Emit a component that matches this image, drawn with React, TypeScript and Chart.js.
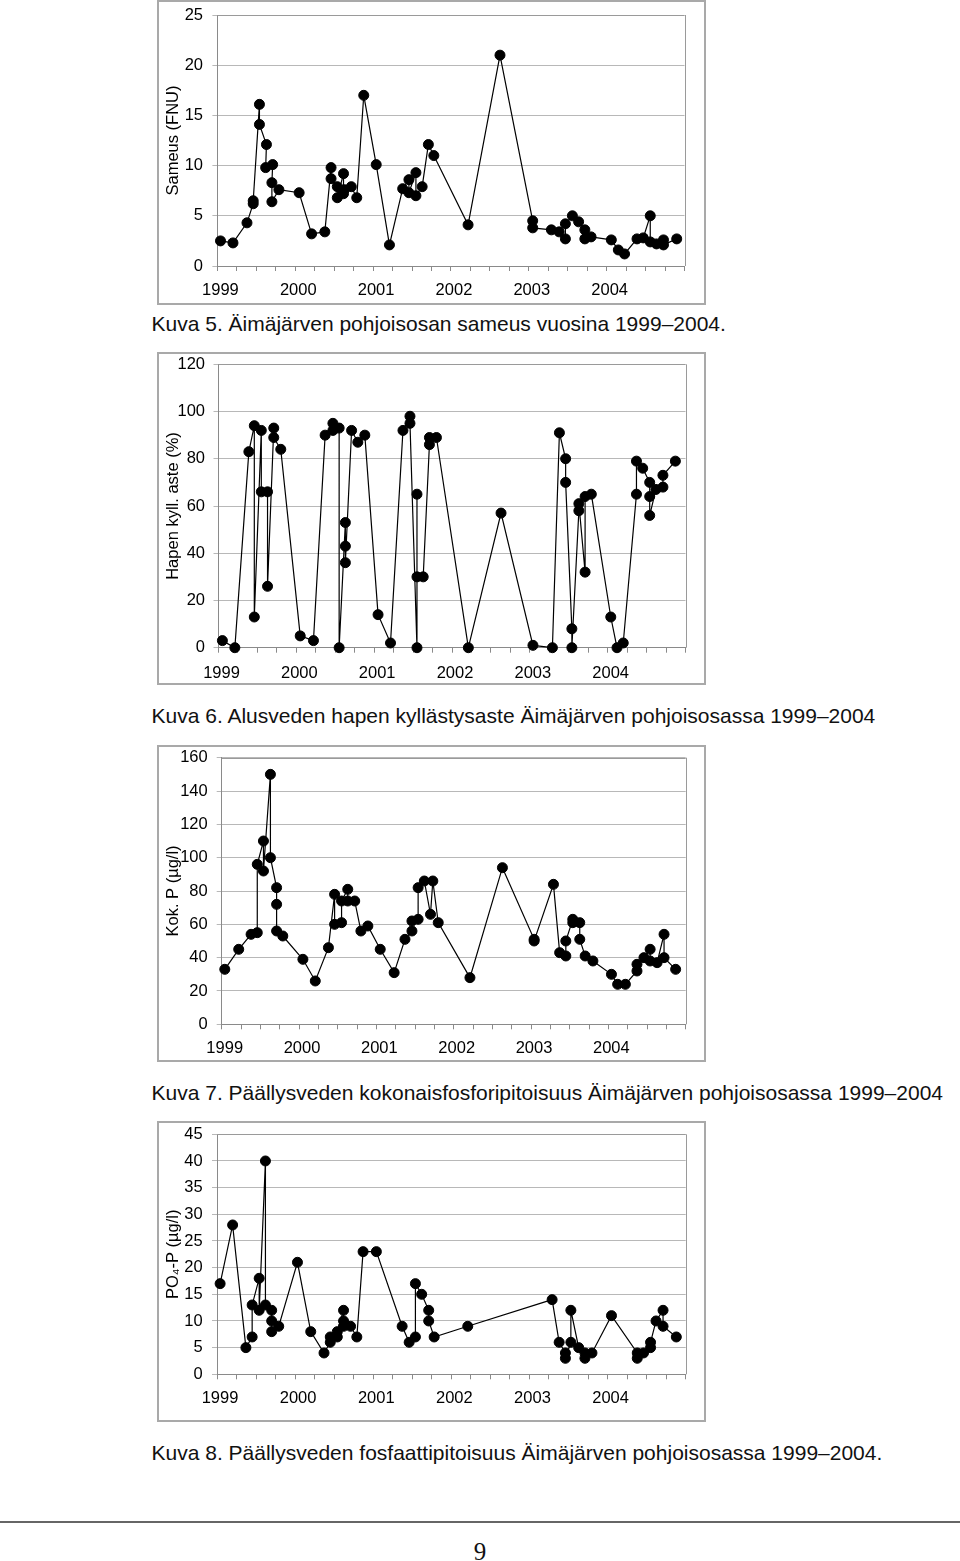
import React, { useEffect, useRef } from 'react';
import { Chart, registerables } from 'chart.js';

Chart.register(...registerables);

// ---------- data ----------
const years = ['1999', '2000', '2001', '2002', '2003', '2004'];

const sameusX = [1999.04, 1999.2, 1999.38, 1999.46, 1999.46, 1999.54, 1999.54, 1999.63, 1999.62, 1999.71, 1999.7, 1999.7, 1999.79, 2000.05, 2000.21, 2000.38, 2000.46, 2000.46, 2000.54, 2000.54, 2000.62, 2000.62, 2000.63, 2000.72, 2000.79, 2000.88, 2001.04, 2001.21, 2001.38, 2001.46, 2001.46, 2001.55, 2001.55, 2001.63, 2001.71, 2001.78, 2002.22, 2002.63, 2003.05, 2003.05, 2003.29, 2003.39, 2003.47, 2003.47, 2003.56, 2003.64, 2003.72, 2003.72, 2003.8, 2004.06, 2004.15, 2004.23, 2004.39, 2004.47, 2004.56, 2004.56, 2004.64, 2004.73, 2004.73, 2004.9];
const sameusY = [2.5, 2.3, 4.3, 6.2, 6.5, 16.1, 14.1, 12.1, 9.8, 10.1, 8.3, 6.4, 7.6, 7.3, 3.2, 3.4, 9.8, 8.7, 7.9, 6.8, 9.2, 7.2, 7.6, 7.9, 6.8, 17.0, 10.1, 2.1, 7.7, 8.6, 7.3, 9.3, 7.0, 7.9, 12.1, 11.0, 4.1, 21.0, 4.5, 3.8, 3.6, 3.4, 2.7, 4.2, 5.0, 4.4, 3.6, 2.7, 2.9, 2.6, 1.6, 1.2, 2.7, 2.8, 5.0, 2.4, 2.2, 2.6, 2.1, 2.7];

const happiX = [1999.05, 1999.21, 1999.39, 1999.46, 1999.46, 1999.55, 1999.55, 1999.63, 1999.63, 1999.71, 1999.71, 1999.8, 2000.05, 2000.22, 2000.37, 2000.47, 2000.47, 2000.55, 2000.55, 2000.63, 2000.63, 2000.63, 2000.71, 2000.79, 2000.88, 2001.05, 2001.21, 2001.37, 2001.46, 2001.46, 2001.55, 2001.55, 2001.55, 2001.63, 2001.71, 2001.71, 2001.8, 2002.21, 2002.63, 2003.04, 2003.29, 2003.38, 2003.46, 2003.46, 2003.54, 2003.54, 2003.63, 2003.63, 2003.71, 2003.71, 2003.79, 2004.04, 2004.12, 2004.2, 2004.37, 2004.37, 2004.45, 2004.54, 2004.54, 2004.54, 2004.62, 2004.71, 2004.71, 2004.87];
const happiY = [3, 0, 83, 94, 13, 92, 66, 66, 26, 93, 89, 84, 5, 3, 90, 95, 92, 93, 0, 53, 43, 36, 92, 87, 90, 14, 2, 92, 98, 95, 0, 65, 30, 30, 86, 89, 89, 0, 57, 1, 0, 91, 80, 70, 8, 0, 58, 61, 32, 64, 65, 13, 0, 2, 65, 79, 76, 70, 64, 56, 67, 68, 73, 79];

const kokPX = [1999.04, 1999.22, 1999.38, 1999.46, 1999.46, 1999.54, 1999.54, 1999.63, 1999.63, 1999.71, 1999.71, 1999.71, 1999.79, 2000.05, 2000.21, 2000.38, 2000.46, 2000.46, 2000.55, 2000.55, 2000.63, 2000.63, 2000.72, 2000.8, 2000.89, 2001.05, 2001.23, 2001.37, 2001.46, 2001.46, 2001.54, 2001.54, 2001.62, 2001.7, 2001.73, 2001.8, 2002.21, 2002.63, 2003.04, 2003.04, 2003.29, 2003.37, 2003.45, 2003.45, 2003.54, 2003.54, 2003.63, 2003.63, 2003.7, 2003.8, 2004.04, 2004.12, 2004.22, 2004.37, 2004.37, 2004.46, 2004.54, 2004.54, 2004.63, 2004.72, 2004.72, 2004.87];
const kokPY = [33, 45, 54, 55, 96, 110, 92, 150, 100, 82, 72, 56, 53, 39, 26, 46, 78, 60, 61, 74, 81, 74, 74, 56, 59, 45, 31, 51, 56, 62, 63, 82, 86, 66, 86, 61, 28, 94, 51, 50, 84, 43, 41, 50, 63, 61, 61, 51, 41, 38, 30, 24, 24, 32, 36, 40, 45, 38, 37, 54, 40, 33];

const po4X = [1999.04, 1999.2, 1999.37, 1999.45, 1999.45, 1999.54, 1999.54, 1999.62, 1999.62, 1999.7, 1999.7, 1999.7, 1999.79, 2000.03, 2000.2, 2000.37, 2000.45, 2000.45, 2000.54, 2000.54, 2000.62, 2000.62, 2000.62, 2000.71, 2000.79, 2000.87, 2001.04, 2001.37, 2001.46, 2001.54, 2001.54, 2001.62, 2001.71, 2001.71, 2001.78, 2002.21, 2003.29, 2003.38, 2003.46, 2003.46, 2003.53, 2003.53, 2003.63, 2003.71, 2003.71, 2003.8, 2004.05, 2004.38, 2004.38, 2004.46, 2004.55, 2004.55, 2004.62, 2004.71, 2004.71, 2004.88];
const po4Y = [17, 28, 5, 7, 13, 18, 12, 40, 13, 12, 10, 8, 9, 21, 8, 4, 6, 7, 7, 8, 12, 10, 9, 9, 7, 23, 23, 9, 6, 7, 17, 15, 12, 10, 7, 9, 14, 6, 4, 3, 6, 12, 5, 4, 3, 4, 11, 4, 3, 4, 5, 6, 10, 12, 9, 7];

const captionTexts = [
  'Kuva 5. Äimäjärven pohjoisosan sameus vuosina 1999–2004.',
  'Kuva 6. Alusveden hapen kyllästysaste Äimäjärven pohjoisosassa 1999–2004',
  'Kuva 7. Päällysveden kokonaisfosforipitoisuus Äimäjärven pohjoisosassa 1999–2004',
  'Kuva 8. Päällysveden fosfaattipitoisuus Äimäjärven pohjoisosassa 1999–2004.',
];
const yTitles = ['Sameus (FNU)', 'Hapen kyll. aste (%)', 'Kok. P (µg/l)', 'PO₄-P (µg/l)'];
const yMaxes = [25, 120, 160, 45];
const ySteps = [5, 20, 20, 5];
const pageNumber = '9';

// ---------- layout ----------
const FONT = '"Liberation Sans", Arial, Helvetica, sans-serif';
const BW = 2;
const TICK = 5;
const TICK_FONT = 16.5;
const TITLE_FONT = 16.5;

type Spec = {
  box: [number, number, number, number];
  area: [number, number, number, number];
  yMax: number;
  yStep: number;
  title: string;
  xs: number[];
  ys: number[];
  yLabelRight: number;
  xLabelCenter: number;
  titleCenter: number;
};

const specs: Spec[] = [
  { box: [157, 0, 549, 305], area: [217.4, 15, 684.5, 266], yMax: yMaxes[0], yStep: ySteps[0], title: yTitles[0], xs: sameusX, ys: sameusY, yLabelRight: 203, xLabelCenter: 290, titleCenter: 173 },
  { box: [157, 352, 549, 333], area: [218.5, 364.3, 685.5, 647.7], yMax: yMaxes[1], yStep: ySteps[1], title: yTitles[1], xs: happiX, ys: happiY, yLabelRight: 205, xLabelCenter: 673, titleCenter: 173 },
  { box: [157, 745, 549, 317], area: [221.7, 757.7, 685.7, 1024.3], yMax: yMaxes[2], yStep: ySteps[2], title: yTitles[2], xs: kokPX, ys: kokPY, yLabelRight: 207.7, xLabelCenter: 1048, titleCenter: 173 },
  { box: [157, 1121, 549, 301], area: [217, 1134.3, 685.7, 1374.3], yMax: yMaxes[3], yStep: ySteps[3], title: yTitles[3], xs: po4X, ys: po4Y, yLabelRight: 202.7, xLabelCenter: 1398, titleCenter: 173 },
];

const captionTops = [313, 704.5, 1081.5, 1441.5];

function Plot({ s }: { s: Spec }) {
  const ref = useRef<HTMLCanvasElement>(null);
  const [bl, bt, bw, bh] = s.box;
  const cx = bl + BW;
  const cy = bt + BW;
  const cw = bw - 2 * BW;
  const ch = bh - 2 * BW;

  useEffect(() => {
    const aL = s.area[0] - cx;
    const aT = s.area[1] - cy;
    const aR = s.area[2] - cx;
    const aB = s.area[3] - cy;
    const lh = TICK_FONT * 1.2;
    const quarterTicks: { value: number }[] = [];
    for (let i = 0; i <= 24; i++) quarterTicks.push({ value: 1999 + i * 0.25 });

    const frame = {
      id: 'frame',
      beforeDatasetsDraw(chart: any) {
        const { ctx, chartArea: a } = chart;
        ctx.save();
        ctx.strokeStyle = '#9a9a9a';
        ctx.lineWidth = 1;
        ctx.beginPath();
        ctx.moveTo(a.left, Math.round(a.top) + 0.5);
        ctx.lineTo(a.right, Math.round(a.top) + 0.5);
        ctx.moveTo(Math.round(a.right) + 0.5, a.top);
        ctx.lineTo(Math.round(a.right) + 0.5, a.bottom);
        ctx.stroke();
        ctx.restore();
      },
    };

    const chart = new Chart(ref.current as HTMLCanvasElement, {
      type: 'line',
      data: {
        datasets: [
          {
            data: s.xs.map((x, i) => ({ x, y: s.ys[i] })),
            borderColor: '#000',
            borderWidth: 1.2,
            pointRadius: 5,
            pointBackgroundColor: '#000',
            pointBorderColor: '#000',
            pointBorderWidth: 1,
            tension: 0,
            clip: false as any,
            fill: false,
          },
        ],
      },
      options: {
        animation: false,
        responsive: false,
        devicePixelRatio: 1,
        events: [],
        layout: { padding: { left: 0, top: aT, right: cw - aR, bottom: 0 } },
        plugins: { legend: { display: false }, tooltip: { enabled: false } },
        scales: {
          x: {
            type: 'linear',
            min: 1999,
            max: 2005,
            afterBuildTicks: (sc: any) => {
              sc.ticks = quarterTicks.map((t) => ({ ...t }));
            },
            ticks: {
              autoSkip: false,
              maxRotation: 0,
              minRotation: 0,
              padding: s.xLabelCenter - s.area[3] - TICK - lh / 2,
              labelOffset: 3,
              color: '#000',
              font: { family: FONT, size: TICK_FONT },
              callback: (v: any) => {
                const n = Number(v);
                const i = Math.round(n - 1999);
                return Math.abs(n - 1999 - i) < 1e-6 && i >= 0 && i < years.length ? years[i] : '';
              },
            },
            grid: { drawOnChartArea: false, drawTicks: true, tickLength: TICK, color: '#8a8a8a' },
            border: { color: '#8a8a8a', width: 1 },
            afterFit: (sc: any) => {
              sc.height = ch - aB;
              sc.paddingLeft = 0;
              sc.paddingRight = 0;
            },
          } as any,
          y: {
            min: 0,
            max: s.yMax,
            ticks: {
              stepSize: s.yStep,
              padding: s.area[0] - s.yLabelRight - TICK,
              color: '#000',
              font: { family: FONT, size: TICK_FONT },
            },
            grid: { color: '#b8b8b8', tickLength: TICK, lineWidth: 1 },
            border: { color: '#8a8a8a', width: 1 },
            title: {
              display: true,
              text: s.title,
              color: '#000',
              font: { family: FONT, size: TITLE_FONT },
              padding: { top: s.titleCenter - cx - (TITLE_FONT * 1.2) / 2, bottom: 0 },
            },
            afterFit: (sc: any) => {
              sc.width = aL;
              sc.paddingTop = 0;
              sc.paddingBottom = 0;
            },
          } as any,
        },
      },
      plugins: [frame],
    } as any);
    return () => chart.destroy();
  }, []);

  return (
    <div
      style={{
        position: 'absolute',
        left: bl,
        top: bt,
        width: bw,
        height: bh,
        boxSizing: 'border-box',
        border: `${BW}px solid #a9a9a9`,
        background: '#fff',
      }}
    >
      <canvas ref={ref} width={cw} height={ch} style={{ display: 'block', width: cw, height: ch }} />
    </div>
  );
}

export default function App() {
  return (
    <div style={{ position: 'absolute', left: 0, top: 0, width: 960, height: 1561, background: '#fff', overflow: 'hidden' }}>
      {specs.map((s, i) => (
        <Plot key={i} s={s} />
      ))}
      {captionTexts.map((t, i) => (
        <div
          key={'c' + i}
          style={{
            position: 'absolute',
            left: 151.5,
            top: captionTops[i],
            fontFamily: FONT,
            fontSize: 21,
            lineHeight: '21px',
            color: '#111',
            whiteSpace: 'nowrap',
          }}
        >
          {t}
        </div>
      ))}
      <div style={{ position: 'absolute', left: 0, top: 1521, width: 960, height: 2, background: '#666' }} />
      <div
        style={{
          position: 'absolute',
          left: 0,
          width: 960,
          top: 1538.5,
          textAlign: 'center',
          fontFamily: '"Liberation Serif", "Times New Roman", serif',
          fontSize: 25,
          lineHeight: '25px',
          color: '#111',
        }}
      >
        {pageNumber}
      </div>
    </div>
  );
}
